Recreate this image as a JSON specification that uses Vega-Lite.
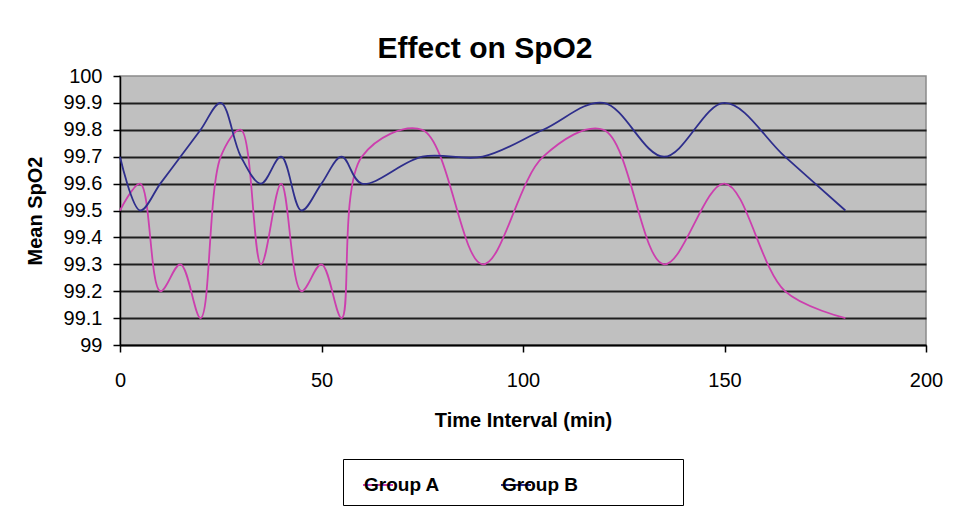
{
  "$schema": "https://vega.github.io/schema/vega-lite/v6.json",
  "autosize": {"type": "none"},
  "width": 806,
  "height": 269,
  "padding": {"left": 120, "top": 76, "right": 32, "bottom": 168},
  "background": "white",
  "title": {
    "text": "Effect on SpO2",
    "font": "Liberation Sans",
    "fontSize": 30,
    "fontWeight": "bold",
    "color": "black",
    "baseline": "alphabetic",
    "offset": 14,
    "dx": -38,
    "dy": 36
  },
  "config": {
    "view": {"fill": "#c0c0c0", "stroke": "#8a8a8a", "strokeWidth": 1.5},
    "axis": {
      "labelFont": "Liberation Sans",
      "titleFont": "Liberation Sans",
      "labelColor": "black",
      "titleColor": "black",
      "domainColor": "black",
      "tickColor": "black",
      "domainWidth": 1.5,
      "tickWidth": 1.5
    }
  },
  "data": {
    "values": [
      {"t": 0, "v": 99.5, "g": "Group A"},
      {"t": 5, "v": 99.6, "g": "Group A"},
      {"t": 10, "v": 99.2, "g": "Group A"},
      {"t": 15, "v": 99.3, "g": "Group A"},
      {"t": 20, "v": 99.1, "g": "Group A"},
      {"t": 25, "v": 99.7, "g": "Group A"},
      {"t": 30, "v": 99.8, "g": "Group A"},
      {"t": 35, "v": 99.3, "g": "Group A"},
      {"t": 40, "v": 99.6, "g": "Group A"},
      {"t": 45, "v": 99.2, "g": "Group A"},
      {"t": 50, "v": 99.3, "g": "Group A"},
      {"t": 55, "v": 99.1, "g": "Group A"},
      {"t": 60, "v": 99.7, "g": "Group A"},
      {"t": 75, "v": 99.8, "g": "Group A"},
      {"t": 90, "v": 99.3, "g": "Group A"},
      {"t": 105, "v": 99.7, "g": "Group A"},
      {"t": 120, "v": 99.8, "g": "Group A"},
      {"t": 135, "v": 99.3, "g": "Group A"},
      {"t": 150, "v": 99.6, "g": "Group A"},
      {"t": 165, "v": 99.2, "g": "Group A"},
      {"t": 180, "v": 99.1, "g": "Group A"},
      {"t": 0, "v": 99.7, "g": "Group B"},
      {"t": 5, "v": 99.5, "g": "Group B"},
      {"t": 10, "v": 99.6, "g": "Group B"},
      {"t": 15, "v": 99.7, "g": "Group B"},
      {"t": 20, "v": 99.8, "g": "Group B"},
      {"t": 25, "v": 99.9, "g": "Group B"},
      {"t": 30, "v": 99.7, "g": "Group B"},
      {"t": 35, "v": 99.6, "g": "Group B"},
      {"t": 40, "v": 99.7, "g": "Group B"},
      {"t": 45, "v": 99.5, "g": "Group B"},
      {"t": 50, "v": 99.6, "g": "Group B"},
      {"t": 55, "v": 99.7, "g": "Group B"},
      {"t": 60, "v": 99.6, "g": "Group B"},
      {"t": 75, "v": 99.7, "g": "Group B"},
      {"t": 90, "v": 99.7, "g": "Group B"},
      {"t": 105, "v": 99.8, "g": "Group B"},
      {"t": 120, "v": 99.9, "g": "Group B"},
      {"t": 135, "v": 99.7, "g": "Group B"},
      {"t": 150, "v": 99.9, "g": "Group B"},
      {"t": 165, "v": 99.7, "g": "Group B"},
      {"t": 180, "v": 99.5, "g": "Group B"}
    ]
  },
  "mark": {"type": "line", "interpolate": "catmull-rom", "strokeWidth": 1.8},
  "encoding": {
    "x": {
      "field": "t",
      "type": "quantitative",
      "scale": {"domain": [0, 200], "nice": false},
      "axis": {
        "title": "Time Interval (min)",
        "titleFontSize": 20,
        "titleFontWeight": "bold",
        "titlePadding": 20,
        "values": [0, 50, 100, 150, 200],
        "labelFontSize": 20,
        "labelFontWeight": "normal",
        "labelPadding": 18,
        "tickSize": 7,
        "grid": false,
        "labelFlush": false
      }
    },
    "y": {
      "field": "v",
      "type": "quantitative",
      "scale": {"domain": [99, 100], "nice": false, "zero": false},
      "axis": {
        "title": "Mean SpO2",
        "titleFontSize": 20,
        "titleFontWeight": "bold",
        "titlePadding": 18,
        "values": [99, 99.1, 99.2, 99.3, 99.4, 99.5, 99.6, 99.7, 99.8, 99.9, 100],
        "format": ".4~g",
        "labelFontSize": 20,
        "labelPadding": 11,
        "tickSize": 7,
        "grid": true,
        "gridColor": "#1e1e1e",
        "gridWidth": 2,
        "gridOpacity": {"condition": {"test": "datum.value >= 100", "value": 0}, "value": 1},
        "labelFlush": false
      }
    },
    "color": {
      "field": "g",
      "type": "nominal",
      "scale": {
        "domain": ["Group A", "Group B", "pad1"],
        "range": ["#cc3fae", "#2e2e8c", "transparent"]
      },
      "legend": {
        "title": null,
        "orient": "none",
        "legendX": 223,
        "legendY": 383,
        "direction": "horizontal",
        "strokeColor": "black",
        "fillColor": "white",
        "padding": 10,
        "symbolType": "stroke",
        "symbolSize": 900,
        "symbolStrokeWidth": 2,
        "symbolOffset": 9,
        "labelOffset": -30,
        "labelFont": "Liberation Sans",
        "labelFontSize": 19,
        "labelFontWeight": "bold",
        "labelColor": "black",
        "columnPadding": 51,
        "labelExpr": "datum.label == 'pad1' ? '' : datum.label"
      }
    }
  }
}
